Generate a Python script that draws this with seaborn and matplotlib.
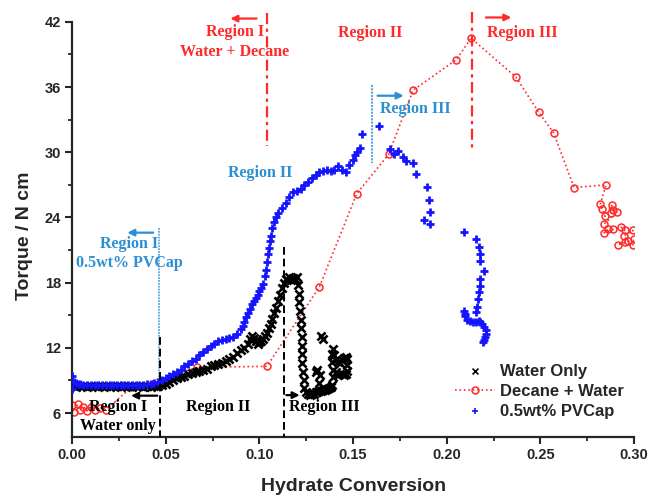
import pandas as pd
import matplotlib.pyplot as plt
import seaborn as sns

# Water only (black x)
water_x = [0.000, 0.002, 0.004, 0.006, 0.008, 0.010, 0.012, 0.014, 0.016, 0.018,
           0.020, 0.022, 0.024, 0.026, 0.028, 0.030, 0.032, 0.034, 0.036, 0.038,
           0.040, 0.042, 0.044, 0.046, 0.048, 0.050, 0.052, 0.054, 0.056, 0.058,
           0.060, 0.062, 0.064, 0.066, 0.068, 0.070, 0.072, 0.074, 0.076, 0.078,
           0.080, 0.082, 0.084, 0.086, 0.088, 0.090, 0.092, 0.094, 0.095, 0.096,
           0.097, 0.098, 0.099, 0.100, 0.101, 0.102, 0.103, 0.104, 0.105, 0.106,
           0.107, 0.108, 0.109, 0.110, 0.111, 0.112, 0.113, 0.114, 0.115, 0.116,
           0.117, 0.118, 0.119, 0.120, 0.1205, 0.121, 0.121, 0.1215, 0.122, 0.122,
           0.1225, 0.123, 0.123, 0.123, 0.1235, 0.124, 0.124, 0.125, 0.126, 0.127,
           0.128, 0.129, 0.130, 0.131, 0.132, 0.133, 0.134, 0.135, 0.136, 0.137,
           0.138, 0.139, 0.1395, 0.1395, 0.139, 0.139, 0.1395, 0.140, 0.141, 0.142,
           0.143, 0.144, 0.145, 0.146, 0.147, 0.147, 0.147, 0.146, 0.145, 0.144,
           0.142, 0.141, 0.133, 0.134, 0.131, 0.1326, 0.1316, 0.130]
water_y = [8.6, 8.4, 8.5, 8.5, 8.4, 8.5, 8.5, 8.4, 8.5, 8.5,
           8.4, 8.5, 8.5, 8.4, 8.5, 8.5, 8.4, 8.5, 8.5, 8.4,
           8.5, 8.4, 8.5, 8.5, 8.6, 8.7, 8.9, 9.0, 9.2, 9.3,
           9.4, 9.6, 9.7, 9.8, 9.9, 10.0, 10.1, 10.3, 10.4, 10.5,
           10.6, 10.8, 11.0, 11.2, 11.5, 11.8, 12.0, 12.4, 12.8, 13.1,
           12.9, 12.6, 12.4, 12.5, 12.6, 12.8, 13.1, 13.4, 13.8, 14.2,
           14.7, 15.2, 15.7, 16.3, 16.9, 17.5, 18.0, 18.3, 18.2, 18.5,
           18.2, 18.4, 18.3, 18.5, 17.8, 17.0, 16.2, 15.4, 14.6, 13.8,
           13.0, 12.2, 11.4, 10.6, 9.8, 9.0, 8.3, 7.9, 7.8, 7.7,
           7.8, 7.8, 7.9, 7.9, 8.0, 8.0, 8.1, 8.1, 8.2, 8.3,
           8.4, 8.6, 9.3, 10.0, 10.7, 11.4, 11.9, 11.3, 10.9, 10.7,
           10.6, 10.9, 11.1, 11.2, 11.0, 10.4, 9.9, 9.6, 9.5, 9.6,
           9.5, 9.8, 13.1, 12.8, 10.0, 9.5, 8.8, 9.8]

# Decane + Water (red circles, dotted line)
decane_x = [0.000, 0.001, 0.003, 0.004, 0.006, 0.008, 0.010, 0.012, 0.015, 0.018,
            0.032, 0.0668, 0.104, 0.132, 0.152, 0.169, 0.182, 0.205, 0.213, 0.237,
            0.249, 0.257, 0.268, 0.285, 0.282, 0.283, 0.2845, 0.288, 0.289, 0.2877,
            0.291, 0.284, 0.286, 0.284, 0.289, 0.293, 0.295, 0.2995, 0.2946, 0.297,
            0.2914, 0.295, 0.2995, 0.300]
decane_y = [6.7, 6.1, 6.8, 6.3, 6.6, 6.2, 6.6, 6.3, 6.5, 6.3,
            8.4, 10.2, 10.3, 17.6, 26.2, 29.8, 35.7, 38.5, 40.5, 36.9,
            33.7, 31.8, 26.75, 27.0, 25.2, 24.8, 24.1, 25.1, 24.7, 24.45,
            24.5, 23.4, 22.9, 22.6, 22.9, 23.1, 22.8, 22.8, 22.3, 21.8,
            21.5, 21.7, 21.5, 22.0]

# 0.5wt% PVCap (blue +)
pvcap_x = [0.000, 0.000, 0.001, 0.002, 0.003, 0.004, 0.006, 0.008, 0.010, 0.012,
           0.014, 0.016, 0.018, 0.020, 0.022, 0.024, 0.026, 0.028, 0.030, 0.032,
           0.034, 0.036, 0.038, 0.040, 0.042, 0.044, 0.046, 0.048, 0.050, 0.052,
           0.054, 0.056, 0.058, 0.060, 0.062, 0.064, 0.066, 0.068, 0.070, 0.072,
           0.074, 0.076, 0.078, 0.080, 0.082, 0.084, 0.086, 0.088, 0.090, 0.091,
           0.092, 0.093, 0.094, 0.095, 0.096, 0.097, 0.098, 0.099, 0.100, 0.101,
           0.102, 0.103, 0.1035, 0.104, 0.1045, 0.105, 0.1055, 0.106, 0.107, 0.108,
           0.109, 0.110, 0.112, 0.114, 0.116, 0.118, 0.120, 0.122, 0.124, 0.126,
           0.128, 0.130, 0.132, 0.134, 0.136, 0.138, 0.140, 0.142, 0.144, 0.146,
           0.148, 0.150, 0.151, 0.152, 0.1535, 0.155, 0.164, 0.1695, 0.1717, 0.174,
           0.1765, 0.178, 0.182, 0.1834, 0.1893, 0.1904, 0.191, 0.1877, 0.191, 0.209,
           0.2155, 0.217, 0.2177, 0.218, 0.2198, 0.218, 0.2177, 0.217, 0.2166, 0.2163,
           0.2155, 0.209, 0.2095, 0.210, 0.211, 0.2125, 0.214, 0.2155, 0.217, 0.218,
           0.219, 0.220, 0.221, 0.221, 0.2205, 0.220, 0.2195]
pvcap_y = [9.4, 8.2, 8.9, 8.8, 8.7, 8.7, 8.6, 8.6, 8.6, 8.6,
           8.6, 8.6, 8.6, 8.6, 8.6, 8.6, 8.6, 8.6, 8.6, 8.6,
           8.6, 8.6, 8.6, 8.7, 8.7, 8.8, 8.9, 9.0, 9.2, 9.4,
           9.6, 9.8, 10.0, 10.3, 10.5, 10.8, 11.0, 11.3, 11.6, 11.9,
           12.2, 12.4, 12.6, 12.7, 12.8, 12.9, 13.0, 13.3, 13.7, 14.0,
           14.4, 14.8, 15.2, 15.6, 16.0, 16.3, 16.6, 16.9, 17.2, 17.5,
           17.9, 18.6, 19.2, 19.9, 20.6, 21.2, 21.8, 22.3, 23.0, 23.6,
           24.0, 24.4, 24.9, 25.3, 25.9, 26.3, 26.4, 26.6, 27.0, 27.3,
           27.6, 27.9, 28.2, 28.3, 28.4, 28.3, 28.4, 28.7, 28.4, 28.2,
           28.8, 29.3, 29.7, 30.0, 30.4, 31.7, 32.4, 30.3, 29.8, 30.1,
           29.6, 29.2, 29.0, 28.0, 26.8, 25.6, 24.5, 23.8, 23.4, 22.7,
           22.0, 21.3, 20.6, 20.0, 19.1, 18.3, 17.7, 17.1, 16.5, 15.8,
           15.3, 15.4, 15.1, 14.9, 14.6, 14.5, 14.4, 14.4, 14.45, 14.4,
           14.2, 13.9, 13.6, 13.3, 13.0, 12.7, 12.5]

water = pd.DataFrame({"x": water_x, "y": water_y})
decane = pd.DataFrame({"x": decane_x, "y": decane_y})
pvcap = pd.DataFrame({"x": pvcap_x, "y": pvcap_y})

RED = "#ff2a2a"
BLUE_TXT = "#2b8fd2"
BLUE_LINE = "#5aa8dc"
BLUE_PT = "#1414ff"

sns.set_style("ticks")
plt.rcParams["font.family"] = ["Liberation Sans", "DejaVu Sans"]
plt.rcParams["font.weight"] = "bold"

fig = plt.figure(figsize=(6.49, 4.96), dpi=100)
ax = fig.add_axes([0.111, 0.119, 0.866, 0.837])

sns.scatterplot(data=water, x="x", y="y", marker="x", color="black", s=34,
                linewidth=1.9, label="Water Only", ax=ax, zorder=3)
sns.lineplot(data=decane, x="x", y="y", sort=False, estimator=None, color=RED,
             linestyle=":", linewidth=1.2, marker="o", markersize=5,
             markerfacecolor="none", markeredgecolor=RED, markeredgewidth=1.1,
             label="Decane + Water", ax=ax, zorder=2)
sns.scatterplot(data=pvcap, x="x", y="y", marker="+", color=BLUE_PT, s=40,
                linewidth=2.0, label="0.5wt% PVCap", ax=ax, zorder=4)

# region boundaries
ax.plot([0.104, 0.104], [42.8, 30.6], color=RED, lw=1.6, ls=(0, (5, 2, 1.5, 2)), clip_on=False, zorder=1)
ax.plot([0.2134, 0.2134], [42.9, 30.4], color=RED, lw=1.6, ls=(0, (5, 2, 1.5, 2)), clip_on=False, zorder=1)
ax.plot([0.1599, 0.1599], [36.2, 29.0], color=BLUE_LINE, lw=1.5, ls=(0, (1, 0.6)), zorder=1)
ax.plot([0.0465, 0.0465], [23.0, 8.8], color=BLUE_LINE, lw=1.3, ls=(0, (1, 0.6)), zorder=1)
ax.plot([0.047, 0.047], [13.0, 3.8], color="black", lw=1.4, ls=(0, (4, 2)), zorder=5)
ax.plot([0.1134, 0.1134], [21.3, 3.8], color="black", lw=1.4, ls=(0, (4, 2)), zorder=5)

arrow = dict(arrowstyle="-|>", lw=1.6, mutation_scale=10, shrinkA=0, shrinkB=0)
ax.annotate("", xy=(0.0845, 42.3), xytext=(0.0985, 42.3), arrowprops=dict(arrow, color=RED), annotation_clip=False)
ax.annotate("", xy=(0.2345, 42.4), xytext=(0.2209, 42.4), arrowprops=dict(arrow, color=RED), annotation_clip=False)
ax.annotate("", xy=(0.1770, 35.2), xytext=(0.1631, 35.2), arrowprops=dict(arrow, color=BLUE_TXT))
ax.annotate("", xy=(0.0295, 22.6), xytext=(0.0433, 22.6), arrowprops=dict(arrow, color=BLUE_TXT))
ax.annotate("", xy=(0.0315, 7.6), xytext=(0.0455, 7.6), arrowprops=dict(arrow, color="black"))
ax.annotate("", xy=(0.1215, 7.65), xytext=(0.1144, 7.65), arrowprops=dict(arrow, color="black"))

serif = dict(family=["Liberation Serif", "DejaVu Serif"], fontweight="bold", fontsize=11.5)
ax.text(0.087, 41.1, "Region I", color=RED, ha="center", va="center", **serif)
ax.text(0.087, 39.2, "Water + Decane", color=RED, ha="center", va="center", **serif)
ax.text(0.159, 41.0, "Region II", color=RED, ha="center", va="center", **serif)
ax.text(0.2214, 41.0, "Region III", color=RED, ha="left", va="center", **serif)
ax.text(0.1642, 34.0, "Region III", color=BLUE_TXT, ha="left", va="center", **serif)
ax.text(0.1005, 28.1, "Region II", color=BLUE_TXT, ha="center", va="center", **serif)
ax.text(0.0306, 21.6, "Region I", color=BLUE_TXT, ha="center", va="center", **serif)
ax.text(0.0307, 19.8, "0.5wt% PVCap", color=BLUE_TXT, ha="center", va="center", **serif)
ax.text(0.0246, 6.6, "Region I", color="black", ha="center", va="center", zorder=6, **serif)
ax.text(0.0243, 4.8, "Water only", color="black", ha="center", va="center", zorder=6, **serif)
ax.text(0.0778, 6.6, "Region II", color="black", ha="center", va="center", **serif)
ax.text(0.1160, 6.6, "Region III", color="black", ha="left", va="center", **serif)

ax.set_xlim(0, 0.30)
ax.set_ylim(3.8, 42)
ax.set_xticks([0.00, 0.05, 0.10, 0.15, 0.20, 0.25, 0.30])
ax.set_xticklabels(["0.00", "0.05", "0.10", "0.15", "0.20", "0.25", "0.30"])
ax.set_xticks([0.025, 0.075, 0.125, 0.175, 0.225, 0.275], minor=True)
ax.set_yticks([6, 12, 18, 24, 30, 36, 42])
ax.set_yticks([9, 15, 21, 27, 33, 39], minor=True)
ax.tick_params(axis="both", which="major", direction="out", length=5, width=1.5,
               labelsize=10.5, pad=3)
ax.tick_params(axis="both", which="minor", direction="out", length=3, width=1.3)
for lab in ax.get_xticklabels() + ax.get_yticklabels():
    lab.set_fontweight("bold")

sns.despine(ax=ax)
ax.spines["left"].set_linewidth(1.6)
ax.spines["bottom"].set_linewidth(1.6)

ax.set_xlabel("Hydrate Conversion", fontsize=14, fontweight="bold")
ax.set_ylabel("Torque / N cm", fontsize=14, fontweight="bold")
ax.xaxis.set_label_coords(0.501, -0.099)
ax.yaxis.set_label_coords(-0.069, 0.484)

leg = ax.legend(loc="lower right", bbox_to_anchor=(1.0, 0.02), frameon=False,
                prop={"weight": "bold", "size": 12}, handlelength=2.4,
                handletextpad=0.3, labelspacing=0.3, borderaxespad=0.2)
for h in leg.legend_handles:
    if hasattr(h, "set_sizes"):
        h.set_sizes([18])
        h.set_linewidth(1.2)

fig.savefig("out.png", dpi=100)
